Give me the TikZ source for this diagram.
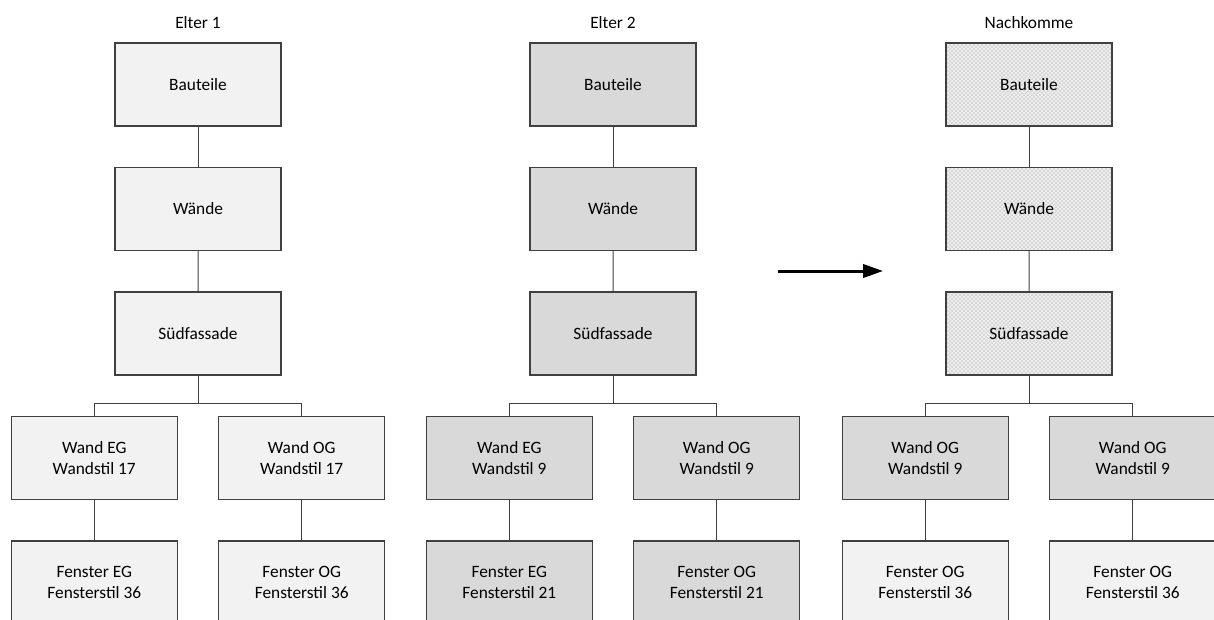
\documentclass[tikz,border=0pt]{standalone}
\usepackage{fontspec}
\setmainfont{Carlito}
\usetikzlibrary{patterns,arrows.meta}

\definecolor{hellgrau}{HTML}{F2F2F2}
\definecolor{dunkelgrau}{HTML}{D9D9D9}
\definecolor{rahmen}{HTML}{404040}

\newcommand{\bauteil}[2]{#1\\#2}
\tikzset{
            box/.style={draw=rahmen, line width=0.8pt, minimum width=124.5pt,
                        minimum height=62.25pt, inner sep=0pt, align=center},
            hell/.style={box, fill=hellgrau},
            dunkel/.style={box, fill=dunkelgrau},
            gemischt/.style={box, preaction={fill=hellgrau}, pattern=crosshatch,
                        pattern color=gray!35}
        }

\begin{document}
\begin{tikzpicture}[
                    x=0.75pt, y=0.75pt,
                    font=\fontsize{13pt}{15.5pt}\selectfont,
                    level distance=93.375pt,
                    edge from parent/.style={draw=rahmen, line width=0.75pt},
                    level 3/.style={sibling distance=155.6pt,
                        edge from parent path={(\tikzparentnode.south) -- ++(0,-21pt) -| (\tikzchildnode.north)}}
                    ]
                \useasboundingbox (0,0) rectangle (1214,-619);

                % Elter 1
                \node (t1) at (198,-23) {Elter 1};
                \node[hell] (e1) at (198,-84.5) {Bauteile}
                    child { node[hell] (e1w) {Wände}
                        child { node[hell] (e1s) {Südfassade}
                            child { node[hell] (e1eg) {\bauteil{Wand EG}{Wandstil 17}}
                                child { node[hell] (e1feg) {\bauteil{Fenster EG}{Fensterstil 36}} }
                            }
                            child { node[hell] (e1og) {\bauteil{Wand OG}{Wandstil 17}}
                                child { node[hell] (e1fog) {\bauteil{Fenster OG}{Fensterstil 36}} }
                            }
                        }
                    };

                % Elter 2
                \node (t2) at (613,-23) {Elter 2};
                \node[dunkel] (e2) at (613,-84.5) {Bauteile}
                    child { node[dunkel] (e2w) {Wände}
                        child { node[dunkel] (e2s) {Südfassade}
                            child { node[dunkel] (e2eg) {\bauteil{Wand EG}{Wandstil 9}}
                                child { node[dunkel] (e2feg) {\bauteil{Fenster EG}{Fensterstil 21}} }
                            }
                            child { node[dunkel] (e2og) {\bauteil{Wand OG}{Wandstil 9}}
                                child { node[dunkel] (e2fog) {\bauteil{Fenster OG}{Fensterstil 21}} }
                            }
                        }
                    };

                % Nachkomme
                \node (t3) at (1029,-23) {Nachkomme};
                \node[gemischt] (n) at (1029,-84.5) {Bauteile}
                    child { node[gemischt] (nw) {Wände}
                        child { node[gemischt] (ns) {Südfassade}
                            child { node[dunkel] (nog1) {\bauteil{Wand OG}{Wandstil 9}}
                                child { node[hell] (nfog1) {\bauteil{Fenster OG}{Fensterstil 36}} }
                            }
                            child { node[dunkel] (nog2) {\bauteil{Wand OG}{Wandstil 9}}
                                child { node[hell] (nfog2) {\bauteil{Fenster OG}{Fensterstil 36}} }
                            }
                        }
                    };

                \coordinate (von) at (778,-271);
                \coordinate (nach) at (883,-271);
                \draw[line width=2.25pt, -{Triangle[length=15pt,width=10pt]}] (von) -- (nach);
            \end{tikzpicture}
\end{document}
